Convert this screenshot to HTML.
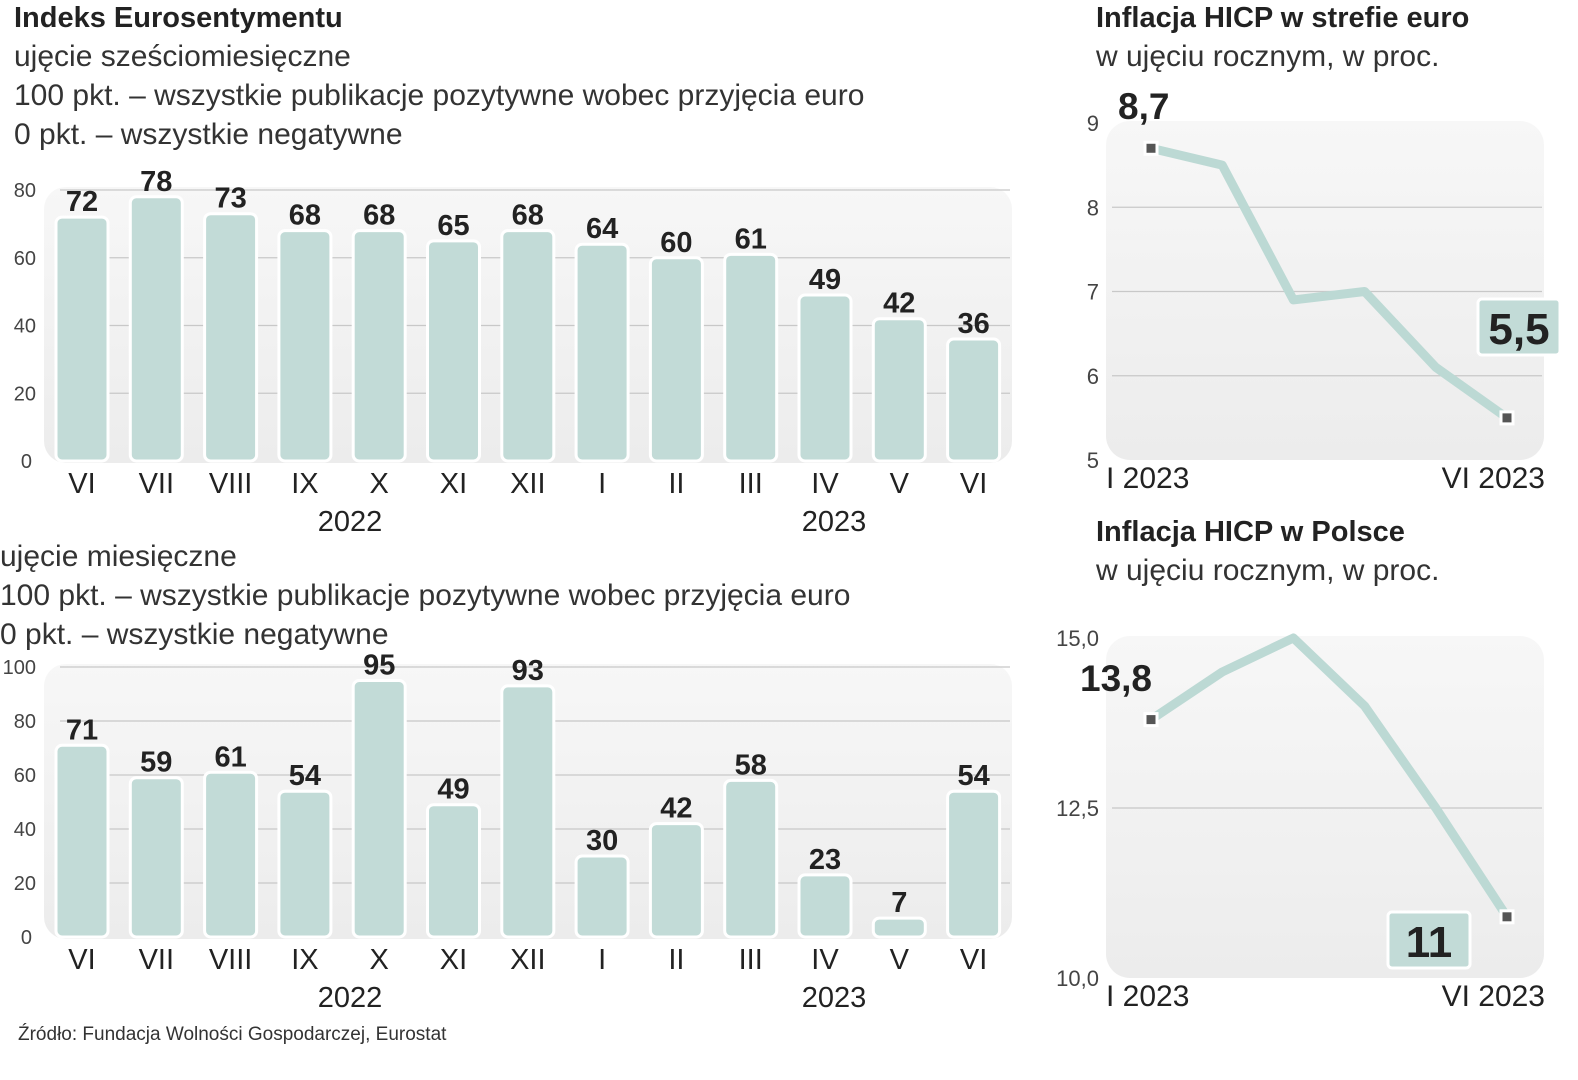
<!DOCTYPE html>
<html><head><meta charset="utf-8">
<style>
body{margin:0;width:1578px;height:1080px;background:#fff;overflow:hidden;font-family:"Liberation Sans",sans-serif;color:#222}
svg{position:absolute;left:0;top:0}
</style></head>
<body>
<svg id="c" width="1578" height="1080">
<defs>
<linearGradient id="pg" x1="0" y1="0" x2="0" y2="1"><stop offset="0" stop-color="#f7f7f7"/><stop offset="1" stop-color="#ececec"/></linearGradient>
</defs>
<g font-family="Liberation Sans Narrow, Liberation Sans, sans-serif">
<text x="14" y="27" font-size="29" font-weight="bold" fill="#222">Indeks Eurosentymentu</text>
<text x="14" y="66" font-size="30" fill="#333">ujęcie sześciomiesięczne</text>
<text x="14" y="105" font-size="30" fill="#333">100 pkt. – wszystkie publikacje pozytywne wobec przyjęcia euro</text>
<text x="14" y="144" font-size="30" fill="#333">0 pkt. –  wszystkie negatywne</text>
<text x="0" y="566" font-size="30" fill="#333">ujęcie miesięczne</text>
<text x="0" y="605" font-size="30" fill="#333">100 pkt. – wszystkie publikacje pozytywne wobec przyjęcia euro</text>
<text x="0" y="644" font-size="30" fill="#333">0 pkt. – wszystkie negatywne</text>
<text x="1096" y="27" font-size="29" font-weight="bold" fill="#222">Inflacja HICP w strefie euro</text>
<text x="1096" y="66" font-size="30" fill="#333">w ujęciu rocznym, w proc.</text>
<text x="1096" y="541" font-size="29" font-weight="bold" fill="#222">Inflacja HICP w Polsce</text>
<text x="1096" y="580" font-size="30" fill="#333">w ujęciu rocznym, w proc.</text>
<text x="18" y="1040" font-size="19" fill="#333">Źródło: Fundacja Wolności Gospodarczej, Eurostat</text>
</g>
</svg>
<script>
const months = ["VI","VII","VIII","IX","X","XI","XII","I","II","III","IV","V","VI"];
const halfYearValues = [72,78,73,68,68,65,68,64,60,61,49,42,36];
const monthlyValues = [71,59,61,54,95,49,93,30,42,58,23,7,54];
const ticks1 = [0,20,40,60,80];
const ticks2 = [0,20,40,60,80,100];
const lineLabels = ["I","II","III","IV","V","VI"];
const euroValues = [8.7,8.5,6.9,7.0,6.1,5.5];
const euroTicks = [5,6,7,8,9];
const plValues = [13.8,14.5,15.0,14.0,12.5,10.9];
const plTicks = [10.0,12.5,15.0];

const NS="http://www.w3.org/2000/svg";
const svg=document.getElementById('c');
function mk(tag,attrs,parent){const e=document.createElementNS(NS,tag);for(const k in attrs)e.setAttribute(k,attrs[k]);(parent||svg).appendChild(e);return e;}
const F="Liberation Sans Narrow, Liberation Sans, sans-serif";

function barChart(values,ticks,max,y0,y1,name){
  const yS=v=>y0-(v/max)*(y0-y1);
  const xS=i=>82+i*74.3;
  const p=mk('rect',{x:44,y:y1-3,width:968,height:y0-y1+5,rx:22,fill:'url(#pg)'});
  
  
  ticks.forEach(t=>{
    if(t>0){const l=mk('line',{x1:60,x2:1010,y1:yS(t),y2:yS(t),stroke:'#c8c8c8','stroke-width':1.2});
    
    }
    const tx=mk('text',{x:t===0?32:36,y:yS(t)+7,'text-anchor':'end','font-size':20,fill:'#444','font-family':'Liberation Sans, sans-serif'});
    tx.textContent=t;
    
    
  });
  values.forEach((v,i)=>{
    const b=mk('rect',{x:xS(i)-26,y:yS(v),width:52,height:y0-yS(v),rx:6,fill:'#c2dbd7',stroke:'#fff','stroke-width':3});
    
    
    const t=mk('text',{x:xS(i),y:yS(v)-6,'text-anchor':'middle','font-size':29,'font-weight':'bold',fill:'#222','font-family':F});
    t.textContent=v;
    
    
    const m=mk('text',{x:xS(i),y:y0+32,'text-anchor':'middle','font-size':29,fill:'#222','font-family':'Liberation Sans, sans-serif'});
    m.textContent=months[i];
    
    
  });
  [[350,'2022'],[834,'2023']].forEach(([x,s])=>{
    const t=mk('text',{x:x,y:y0+70,'text-anchor':'middle','font-size':29,fill:'#222','font-family':'Liberation Sans, sans-serif'});
    t.textContent=s;
    
    
  });
}
barChart(halfYearValues,ticks1,80,461,190,'halfyear-chart');
barChart(monthlyValues,ticks2,100,937,667,'monthly-chart');

function lineChart(values,ticks,lo,hi,yLo,yHi,px,py,name,fmt,first,last){
  const yS=v=>yLo-(v-lo)/(hi-lo)*(yLo-yHi);
  const xS=i=>1151+i*71.2;
  const p=mk('rect',{x:1106,y:yHi-2,width:438,height:yLo-yHi+2,rx:24,fill:'url(#pg)'});
  
  
  ticks.forEach(t=>{
    if(t>lo&&t<hi){const l=mk('line',{x1:1112,x2:1542,y1:yS(t),y2:yS(t),stroke:'#c8c8c8','stroke-width':1.2});
    
    }
    const tx=mk('text',{x:1099,y:yS(t)+8,'text-anchor':'end','font-size':22,fill:'#444','font-family':'Liberation Sans, sans-serif'});
    tx.textContent=fmt(t);
    
    
  });
  const pl=mk('polyline',{points:values.map((v,i)=>xS(i)+','+yS(v)).join(' '),fill:'none',stroke:'#bcd9d4','stroke-width':9,'stroke-linejoin':'round'});
  
  
  [0,values.length-1].forEach(i=>{
    const m=mk('rect',{x:xS(i)-6,y:yS(values[i])-6,width:12,height:12,fill:'#555',stroke:'#fff','stroke-width':3});
    
    
  });
  [[1106,'start','I 2023'],[1545,'end','VI 2023']].forEach(([x,a,s])=>{
    const t=mk('text',{x:x,y:yLo+28,'text-anchor':a,'font-size':30,fill:'#222','font-family':'Liberation Sans, sans-serif'});
    t.textContent=s;
    
    
  });
  const f=mk('text',{x:first[0],y:first[1],'text-anchor':'start','font-size':37,'font-weight':'bold',fill:'#222','font-family':F});
  f.textContent=String(values[0]).replace('.',',');
  
  
  const b=mk('rect',{x:last[0],y:last[1],width:last[2],height:56,rx:4,fill:'#c2dbd7',stroke:'#fff','stroke-width':3});
  
  
  const lt=mk('text',{x:last[0]+last[2]/2,y:last[1]+45,'text-anchor':'middle','font-size':44,'font-weight':'bold',fill:'#222','font-family':F});
  lt.textContent=last[3];
  
  
}
lineChart(euroValues,euroTicks,5,9,460,123,0,0,'hicp-euro',t=>t,[1118,119],[1478,299,82,String(euroValues[5]).replace('.',',')]);
lineChart(plValues,plTicks,10,15,978,638,0,0,'hicp-pl',t=>t.toFixed(1).replace('.',','),[1080,691],[1388,912,82,String(Math.round(plValues[5]))]);
</script>
</body></html>
